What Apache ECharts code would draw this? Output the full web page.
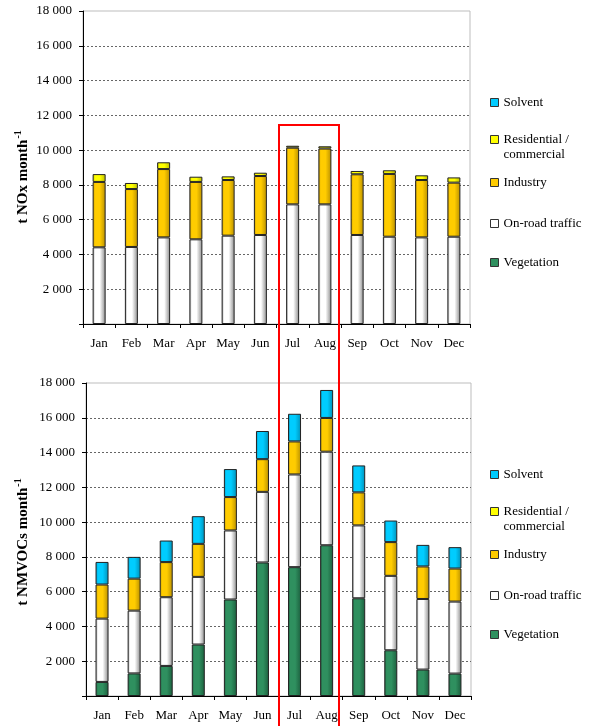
<!DOCTYPE html>
<html>
<head>
<meta charset="utf-8">
<script src="https://cdn.jsdelivr.net/npm/echarts@6/dist/echarts.min.js"></script>
<style>html,body{margin:0;padding:0;background:#fff}#c{width:589px;height:726px}</style>
</head>
<body>
<div id="c"></div>
<script>
const months = ['Jan','Feb','Mar','Apr','May','Jun','Jul','Aug','Sep','Oct','Nov','Dec'];
const seriesNames = ['Vegetation','On-road traffic','Industry','Residential / commercial','Solvent'];
const legendOrder = ['Solvent','Residential / commercial','Industry','On-road traffic','Vegetation'];

// NOx (t/month)
const noxVegetation  = [0,0,0,0,0,0,0,0,0,0,0,0];
const noxOnroad      = [4410,4430,4980,4870,5080,5120,6880,6880,5120,5020,4980,5020];
const noxIndustry    = [3760,3330,3930,3300,3200,3390,3260,3210,3490,3610,3300,3110];
const noxResidential = [450,350,390,300,210,190,110,130,190,210,270,300];
const noxSolvent     = [0,0,0,0,0,0,0,0,0,0,0,0];

// NMVOCs (t/month)
const vocVegetation  = [810,1300,1730,2960,5550,7680,7410,8670,5620,2630,1520,1290];
const vocOnroad      = [3640,3610,3950,3890,3970,4060,5330,5380,4190,4280,4060,4140];
const vocIndustry    = [1960,1840,2020,1900,1920,1880,1900,1940,1900,1940,1870,1900];
const vocResidential = [0,0,0,0,0,0,0,0,0,0,0,0];
const vocSolvent     = [1300,1250,1240,1590,1610,1620,1590,1610,1550,1240,1240,1230];

const yTicks = [0,2000,4000,6000,8000,10000,12000,14000,16000,18000];

const FONT = '"Liberation Serif","Times New Roman",serif';
const palette = {
  'Vegetation': {base:'#2f905f', edge:'#1c5e3e', flat:'#2f905f'},
  'On-road traffic': {base:'#ffffff', edge:'#8a8a8a', flat:'#ffffff'},
  'Industry': {base:'#ffcc00', edge:'#b88f00', flat:'#ffcc00'},
  'Residential / commercial': {base:'#ffff00', edge:'#bcbc00', flat:'#ffff00'},
  'Solvent': {base:'#00ccff', edge:'#0090b8', flat:'#00ccff'}
};
function grad(p){
  return new echarts.graphic.LinearGradient(0,0,1,0,[
    {offset:0,color:p.edge},{offset:0.18,color:p.base},{offset:0.55,color:p.base},{offset:1,color:p.edge}
  ]);
}
function fmt(v){ if(v===0) return ''; return String(v).replace(/\B(?=(\d{3})+(?!\d))/g,' '); }

const noxData = [noxVegetation,noxOnroad,noxIndustry,noxResidential,noxSolvent];
const vocData = [vocVegetation,vocOnroad,vocIndustry,vocResidential,vocSolvent];

const series = [];
[noxData, vocData].forEach((set, gi) => {
  set.forEach((arr, si) => {
    const name = seriesNames[si];
    series.push({
      name, type:'bar', stack:'s'+gi, xAxisIndex:gi, yAxisIndex:gi,
      barWidth:13,
      data: arr.map(v => v === 0 ? '-' : v),
      itemStyle:{color:grad(palette[name]), borderColor:'#222', borderWidth:1},
      emphasis:{disabled:true},
      animation:false
    });
  });
});

function xAxis(gi){
  return {type:'category', gridIndex:gi, data:months, boundaryGap:true,
    axisLine:{lineStyle:{color:'#000',width:1}},
    axisTick:{show:true, length:4, lineStyle:{color:'#000'}},
    axisLabel:{fontFamily:FONT, fontSize:13, color:'#000', margin:13}};
}
function yAxis(gi){
  return {type:'value', gridIndex:gi, min:yTicks[0], max:yTicks[yTicks.length-1], interval:yTicks[1]-yTicks[0],
    axisLine:{show:true, lineStyle:{color:'#000',width:1}},
    axisTick:{show:true, length:4, lineStyle:{color:'#000'}},
    axisLabel:{fontFamily:FONT, fontSize:13, color:'#000', margin:11, formatter:fmt},
    splitLine:{show:true, showMinLine:false, showMaxLine:false, lineStyle:{color:'#666', type:[2,2], width:1}}};
}

const legendCenters = [101,138,181,222,261];
const legends = [];
[0,372].forEach(off => {
  legendOrder.forEach((name,i) => {
    const multi = name === 'Residential / commercial';
    const c = legendCenters[i] + off + 1.5;
    legends.push({
      orient:'vertical', left:490, top: multi ? c - 22.5 : c - 7.5, padding:0,
      itemWidth:8, itemHeight:8, itemGap:5, icon:'rect', selectedMode:false,
      formatter: n => n === 'Residential / commercial' ? ' \nResidential /\ncommercial' : n,
      textStyle:{fontFamily:FONT, fontSize:13, color:'#000', lineHeight:15},
      data:[{name, itemStyle:{color:palette[name].flat, borderColor:'#333', borderWidth:1}}]
    });
  });
});

const chart = echarts.init(document.getElementById('c'), null, {renderer:'canvas'});
chart.setOption({
  animation:false,
  backgroundColor:'#fff',
  grid:[
    {left:83, top:11, width:387, height:313, show:true, borderColor:'#bdbdbd', borderWidth:1, backgroundColor:'transparent'},
    {left:86, top:383, width:385, height:313, show:true, borderColor:'#bdbdbd', borderWidth:1, backgroundColor:'transparent'}
  ],
  xAxis:[xAxis(0), xAxis(1)],
  yAxis:[yAxis(0), yAxis(1)],
  legend:legends,
  series,
  graphic:[
    {type:'text', x:22, y:177, rotation:Math.PI/2, style:{text:'{a|t NOx month}{s|-1}', align:'center', verticalAlign:'middle',
      rich:{a:{fontFamily:FONT, fontSize:15, fontWeight:'bold', fill:'#000', lineHeight:18, verticalAlign:'bottom'},
            s:{fontFamily:FONT, fontSize:10, fontWeight:'bold', fill:'#000', lineHeight:18, verticalAlign:'top', padding:[0,0,8,1]}}}},
    {type:'text', x:22, y:542, rotation:Math.PI/2, style:{text:'{a|t NMVOCs month}{s|-1}', align:'center', verticalAlign:'middle',
      rich:{a:{fontFamily:FONT, fontSize:15, fontWeight:'bold', fill:'#000', lineHeight:18, verticalAlign:'bottom'},
            s:{fontFamily:FONT, fontSize:10, fontWeight:'bold', fill:'#000', lineHeight:18, verticalAlign:'top', padding:[0,0,8,1]}}}},
    {type:'rect', z:100, shape:{x:279, y:125, width:60, height:640}, style:{fill:'none', stroke:'#ff0000', lineWidth:2}}
  ]
});
</script>
</body>
</html>
